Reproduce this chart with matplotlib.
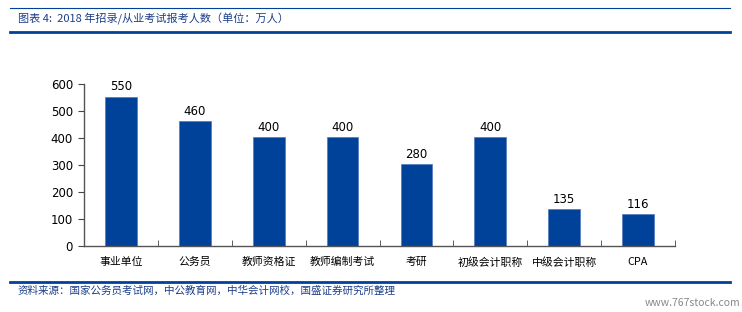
import numpy as np
import matplotlib.pyplot as plt
from matplotlib.lines import Line2D

plt.rcParams['font.family'] = ['Noto Sans CJK SC', 'DejaVu Sans']

categories = ['事业单位', '公务员', '教师资格证', '教师编制考试', '考研', '初级会计职称', '中级会计职称', 'CPA']
values = [553, 462, 402, 402, 302, 402, 137, 118]
value_labels = ['550', '460', '400', '400', '280', '400', '135', '116']

blue = '#00419a'
fig = plt.figure(figsize=(7.42, 3.12), dpi=100)
ax = fig.add_axes([84 / 742, 1 - 246 / 312, (675 - 84) / 742, (246 - 84) / 312])

x = np.arange(len(categories))
ax.bar(x, values, width=0.43, color=blue, edgecolor='#5577bb', linewidth=0.5, zorder=2)
for xi, v, lab in zip(x, values, value_labels):
    ax.text(xi, v + 12, lab, ha='center', va='bottom', fontsize=8.5, family='DejaVu Sans')

ax.set_xlim(-0.5, len(categories) - 0.5)
ax.set_ylim(0, 600)
ax.set_yticks(range(0, 601, 100))
ax.set_yticklabels([str(t) for t in range(0, 601, 100)], fontsize=8.5, family='DejaVu Sans')
ax.set_xticks(x)
ax.set_xticklabels(categories, fontsize=7.8)
ax.set_xticks(np.arange(-0.5, len(categories)), minor=True)
ax.tick_params(axis='x', which='major', length=0, pad=8)
ax.tick_params(axis='x', which='minor', length=4, direction='in', color='#444444')
ax.tick_params(axis='y', length=4, direction='out', color='#444444', pad=4)
for s in ['top', 'right']:
    ax.spines[s].set_visible(False)
for s in ['left', 'bottom']:
    ax.spines[s].set_color('#555555')
    ax.spines[s].set_linewidth(1.0)

# header / footer decorations
def hline(y, lw):
    fig.add_artist(Line2D([10 / 742, 730 / 742], [1 - y / 312, 1 - y / 312],
                          color=blue, linewidth=lw, transform=fig.transFigure))

hline(8, 0.8)
hline(32, 2.0)
hline(282, 2.0)
fig.text(18 / 742, 1 - 19 / 312, '图表 4:  2018 年招录/从业考试报考人数（单位：万人）',
         fontsize=8, color='#1c3f8a', style='italic', va='center')
fig.text(18 / 742, 1 - 291 / 312, '资料来源：国家公务员考试网，中公教育网，中华会计网校，国盛证券研究所整理',
         fontsize=7.6, color='#1c3f8a', style='italic', va='center')
fig.text(740 / 742, 1 - 303 / 312, 'www.767stock.com', fontsize=7.5, color='#888888',
         ha='right', va='center')

fig.savefig('out.png', dpi=100)
